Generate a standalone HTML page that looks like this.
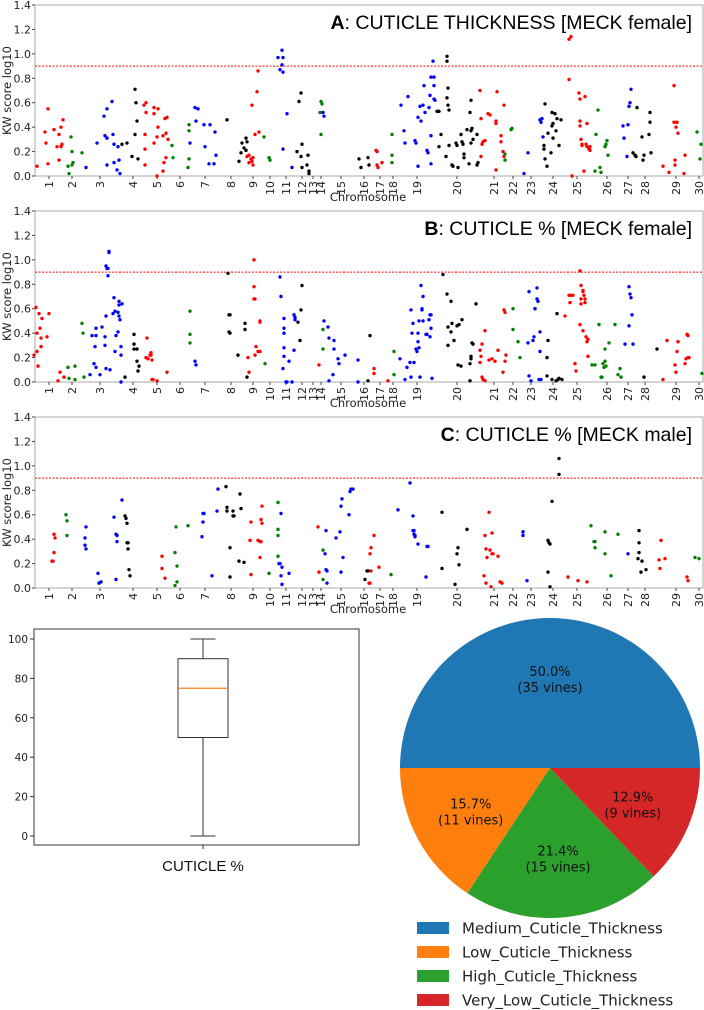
<!DOCTYPE html>
<html><head><meta charset="utf-8"><style>
html,body{margin:0;padding:0;background:#fff;}
svg{display:block;font-family:"DejaVu Sans","Liberation Sans",sans-serif;}
</style></head><body>
<svg id="fig" width="704" height="1010" viewBox="0 0 704 1010"></svg>
<script>
// ---------- DATA ----------
const chromTicks = [1,2,3,4,5,6,7,8,9,10,11,12,13,14,15,16,17,18,19,20,21,22,23,24,25,26,27,28,29,30];
const chromCenters = [49,72,100,133,157,180,205,231,253,270,286,302,313,321,341,364,380,393,417,457,494,513,531,553,577,607,628,645,676,699];
const yTicks = [0.0,0.2,0.4,0.6,0.8,1.0,1.2,1.4];
const threshold = 0.9;
const titles = [["A","CUTICLE THICKNESS [MECK female]"],["B","CUTICLE % [MECK female]"],["C","CUTICLE % [MECK male]"]];
// [chromosome, genome position, KW score]
const scoresA = [
[1,37,0.08],[1,48,0.55],[1,45,0.36],[1,46,0.27],[1,48,0.10],[1,54,0.38],[1,57,0.24],[1,59,0.13],[1,59,0.34],[1,61,0.24],[1,61,0.40],[1,62,0.26],[1,63,0.46],
[2,68,0.08],[2,71,0.32],[2,69,0.02],[2,72,0.20],[2,72,0.09],[2,73,0.11],[2,82,0.19],
[3,86,0.07],[3,97,0.27],[3,104,0.49],[3,105,0.33],[3,107,0.09],[3,107,0.31],[3,107,0.55],[3,112,0.61],[3,113,0.34],[3,114,0.26],[3,114,0.11],[3,117,0.05],[3,118,0.24],[3,119,0.13],[3,120,0.02],
[4,122,0.26],[4,127,0.27],[4,132,0.16],[4,135,0.71],[4,136,0.60],[4,135,0.34],[4,137,0.45],[4,138,0.14],
[5,144,0.58],[5,146,0.60],[5,146,0.52],[5,145,0.34],[5,145,0.22],[5,145,0.09],[5,154,0.51],[5,154,0.56],[5,158,0.55],[5,157,0.00],[5,154,0.27],[5,157,0.32],[5,158,0.40],[5,163,0.33],[5,163,0.04],[5,164,0.11],[5,165,0.47],[5,166,0.35],[5,167,0.48],[5,166,0.15],[5,168,0.30],
[6,172,0.25],[6,173,0.15],[6,188,0.07],[6,189,0.14],[6,189,0.37],[6,189,0.42],
[7,190,0.27],[7,195,0.56],[7,198,0.55],[7,196,0.45],[7,204,0.42],[7,205,0.24],[7,209,0.10],[7,210,0.42],[7,214,0.10],[7,215,0.36],[7,216,0.17],
[8,227,0.46],[8,239,0.12],[8,241,0.19],[8,242,0.27],[8,244,0.23],[8,246,0.31],[8,247,0.28],[8,246,0.21],
[9,247,0.16],[9,249,0.17],[9,249,0.11],[9,251,0.14],[9,252,0.58],[9,253,0.15],[9,253,0.09],[9,252,0.12],[9,255,0.34],[9,257,0.69],[9,258,0.86],[9,259,0.36],
[10,264,0.32],[10,269,0.15],[10,270,0.13],
[11,278,0.97],[11,280,0.87],[11,282,0.91],[11,282,1.03],[11,283,0.97],[11,283,0.85],[11,283,0.22],[11,287,0.51],[11,292,0.07],
[12,297,0.20],[12,299,0.61],[12,301,0.68],[12,301,0.16],[12,302,0.26],[12,302,0.07],[12,307,0.09],[12,308,0.17],[12,309,0.04],[12,309,0.02],
[14,321,0.61],[14,322,0.59],[14,320,0.52],[14,321,0.34],[15,323,0.52],[15,324,0.49],
[16,359,0.14],[16,361,0.07],[16,368,0.15],[16,369,0.09],
[17,376,0.21],[17,377,0.20],[17,377,0.09],[17,378,0.07],[17,382,0.11],
[18,392,0.17],[18,392,0.34],[18,392,0.11],
[19,404,0.37],[19,405,0.27],[19,401,0.58],[19,408,0.65],[19,415,0.29],[19,416,0.27],[19,418,0.48],[19,418,0.08],[19,420,0.57],[19,421,0.45],[19,423,0.58],[19,424,0.74],[19,425,0.52],[19,427,0.21],[19,428,0.19],[19,429,0.56],[19,430,0.66],[19,431,0.33],[19,431,0.10],[19,431,0.81],[19,434,0.81],[19,433,0.94],[19,434,0.74],[19,434,0.63],[19,435,0.62],
[20,437,0.53],[20,439,0.53],[20,439,0.24],[20,441,0.34],[20,446,0.16],[20,447,0.94],[20,447,0.98],[20,447,0.64],[20,448,0.72],[20,449,0.54],[20,448,0.58],[20,449,0.25],[20,452,0.09],[20,453,0.08],[20,456,0.27],[20,457,0.25],[20,458,0.07],[20,461,0.34],[20,462,0.28],[20,463,0.26],[20,464,0.18],[20,464,0.15],[20,467,0.38],[20,469,0.10],[20,470,0.52],[20,471,0.27],[20,471,0.37],[20,471,0.62],[20,472,0.39],[20,473,0.30],[20,477,0.09],[20,477,0.34],[20,478,0.11],
[21,480,0.70],[21,481,0.47],[21,481,0.16],[21,482,0.26],[21,483,0.28],[21,485,0.29],[21,488,0.51],[21,490,0.50],[21,497,0.69],[21,496,0.45],[21,496,0.43],[21,496,0.05],[21,501,0.33],[21,501,0.28],[21,503,0.20],[21,504,0.58],[21,504,0.16],
[22,505,0.18],[22,505,0.13],[22,512,0.39],[22,511,0.38],
[23,524,0.02],[23,528,0.19],[23,540,0.46],[23,542,0.47],[23,541,0.44],[23,543,0.32],
[24,544,0.25],[24,545,0.59],[24,544,0.22],[24,545,0.14],[24,547,0.08],[24,548,0.35],[24,551,0.19],[24,552,0.52],[24,552,0.41],[24,553,0.43],[24,553,0.31],[24,555,0.51],[24,556,0.37],[24,557,0.47],[24,559,0.25],[24,561,0.46],
[25,569,1.12],[25,571,1.14],[25,569,0.79],[25,572,0.00],[25,579,0.68],[25,580,0.63],[25,580,0.45],[25,580,0.41],[25,581,0.30],[25,582,0.25],[25,582,0.26],[25,584,0.04],[25,585,0.65],[25,586,0.26],[25,587,0.43],[25,587,0.24],[25,589,0.22],[25,590,0.21],[25,590,0.24],
[26,595,0.04],[26,596,0.34],[26,598,0.54],[26,600,0.07],[26,601,0.03],[26,605,0.24],[26,606,0.26],[26,607,0.29],[26,608,0.17],
[27,623,0.41],[27,624,0.31],[27,627,0.16],[27,628,0.42],[27,629,0.57],[27,630,0.60],[27,631,0.71],
[28,633,0.19],[28,635,0.17],[28,636,0.16],[28,637,0.56],[28,642,0.32],[28,643,0.13],[28,644,0.17],[28,649,0.34],[28,650,0.52],[28,650,0.44],[28,651,0.19],
[29,663,0.08],[29,669,0.03],[29,674,0.74],[29,674,0.44],[29,677,0.44],[29,676,0.40],[29,678,0.35],[29,675,0.09],[29,675,0.13],[29,684,0.02],[29,685,0.17],
[30,697,0.36],[30,701,0.26],[30,700,0.14]
];
const scoresB = [
[1,34,0.22],[1,36,0.61],[1,37,0.40],[1,37,0.25],[1,38,0.13],[1,39,0.56],[1,40,0.44],[1,41,0.29],[1,41,0.36],[1,42,0.52],[1,47,0.37],[1,49,0.56],[1,58,0.01],[1,60,0.08],[1,64,0.04],
[2,68,0.12],[2,69,0.03],[2,75,0.13],[2,75,0.02],[2,82,0.48],[2,83,0.40],[2,84,0.04],
[3,90,0.06],[3,92,0.38],[3,94,0.15],[3,95,0.29],[3,96,0.12],[3,96,0.44],[3,96,0.38],[3,100,0.06],[3,102,0.45],[3,105,0.30],[3,105,0.37],[3,106,0.54],[3,106,0.11],[3,106,0.95],[3,107,0.93],[3,108,0.87],[3,108,0.93],[3,109,1.06],[3,109,1.07],[3,110,0.10],[3,113,0.56],[3,114,0.69],[3,115,0.25],[3,115,0.58],[3,116,0.38],[3,118,0.41],[3,118,0.57],[3,119,0.66],[3,119,0.63],[3,119,0.54],[3,120,0.51],[3,121,0.22],[3,121,0.29],[3,122,0.64],[3,121,0.00],
[4,125,0.04],[4,134,0.39],[4,134,0.31],[4,134,0.27],[4,137,0.17],[4,137,0.27],[4,138,0.09],[4,139,0.13],
[5,146,0.20],[5,147,0.36],[5,148,0.19],[5,150,0.22],[5,151,0.24],[5,151,0.22],[5,152,0.18],[5,152,0.02],[5,153,0.02],[5,157,0.01],[5,167,0.08],
[6,190,0.32],[6,190,0.39],[6,190,0.58],
[7,195,0.17],[7,196,0.14],
[8,228,0.89],[8,229,0.55],[8,230,0.55],[8,229,0.41],[8,230,0.40],[8,238,0.22],[8,245,0.48],[8,245,0.43],[8,247,0.04],
[9,248,0.20],[9,249,0.08],[9,254,1.00],[9,254,0.78],[9,254,0.68],[9,255,0.68],[9,255,0.22],[9,256,0.29],[9,258,0.25],[9,260,0.25],[9,260,0.50],[9,260,0.49],
[10,265,0.15],
[11,280,0.86],[11,281,0.70],[11,284,0.52],[11,284,0.44],[11,284,0.40],[11,284,0.28],[11,284,0.21],[11,283,0.11],[11,286,0.00],[11,287,0.00],[11,289,0.17],[11,292,0.00],[11,294,0.26],[11,294,0.55],[11,295,0.53],[11,295,0.51],
[12,298,0.49],[12,300,0.34],[12,301,0.59],[12,302,0.79],
[13,319,0.14],[14,323,0.27],[14,323,0.43],
[15,324,0.50],[15,328,0.45],[15,329,0.36],[15,329,0.01],[15,333,0.06],[15,334,0.27],[15,334,0.34],[15,338,0.19],[15,339,0.15],[15,345,0.22],[15,358,0.18],[15,358,0.00],
[16,368,0.01],[16,370,0.38],
[17,374,0.11],[17,374,0.07],[17,388,0.01],
[18,394,0.25],[18,394,0.06],
[19,400,0.19],[19,405,0.02],[19,407,0.12],[19,410,0.16],[19,411,0.04],[19,412,0.40],[19,411,0.59],[19,414,0.16],[19,413,0.48],[19,416,0.27],[19,418,0.40],[19,418,0.33],[19,417,0.25],[19,419,0.28],[19,419,0.50],[19,420,0.04],[19,421,0.79],[19,422,0.59],[19,423,0.70],[19,422,0.60],[19,423,0.50],[19,426,0.39],[19,427,0.39],[19,429,0.51],[19,430,0.55],[19,430,0.37],[19,431,0.55],[19,431,0.44],[19,432,0.03],
[20,443,0.88],[20,447,0.72],[20,448,0.45],[20,448,0.30],[20,451,0.66],[20,451,0.41],[20,452,0.48],[20,454,0.34],[20,457,0.46],[20,459,0.47],[20,458,0.14],[20,461,0.13],[20,462,0.51],[20,470,0.01],[20,470,0.15],[20,471,0.21],[20,472,0.32],[20,473,0.31],[20,471,0.19],[20,476,0.64],
[21,480,0.26],[21,481,0.21],[21,480,0.16],[21,482,0.31],[21,482,0.04],[21,483,0.02],[21,485,0.01],[21,485,0.42],[21,489,0.18],[21,492,0.19],[21,495,0.17],[21,498,0.26],[21,503,0.08],[21,504,0.59],[21,505,0.57],[21,505,0.17],[21,506,0.22],
[22,513,0.60],[22,513,0.43],[22,518,0.33],[22,520,0.20],
[23,528,0.32],[23,529,0.74],[23,529,0.05],[23,531,0.01],[23,533,0.34],[23,534,0.37],[23,535,0.60],[23,535,0.60],[23,537,0.77],[23,537,0.68],[23,538,0.66],[23,539,0.02],[23,540,0.25],[23,540,0.41],[23,541,0.02],
[24,547,0.05],[24,547,0.20],[24,548,0.34],[24,552,0.02],[24,556,0.01],[24,557,0.56],[24,558,0.02],[24,559,0.03],[24,562,0.02],
[25,565,0.54],[25,569,0.71],[25,570,0.65],[25,571,0.71],[25,573,0.71],[25,575,0.15],[25,576,0.09],[25,580,0.91],[25,580,0.47],[25,581,0.79],[25,581,0.64],[25,581,0.68],[25,583,0.42],[25,583,0.75],[25,583,0.74],[25,584,0.71],[25,585,0.68],[25,585,0.65],[25,586,0.37],[25,587,0.33],[25,588,0.21],[25,588,0.35],
[26,592,0.14],[26,595,0.14],[26,599,0.47],[26,601,0.04],[26,602,0.04],[26,603,0.15],[26,604,0.12],[26,605,0.17],[26,605,0.27],[26,606,0.13],[26,609,0.32],[26,615,0.47],[26,618,0.06],[26,620,0.11],[26,621,0.04],
[27,625,0.31],[27,629,0.46],[27,629,0.78],[27,630,0.72],[27,631,0.69],[27,632,0.55],[27,633,0.31],
[28,644,0.04],[28,657,0.27],
[29,663,0.02],[29,667,0.34],[29,675,0.14],[29,676,0.08],[29,677,0.25],[29,678,0.33],[29,685,0.15],[29,686,0.19],[29,687,0.39],[29,688,0.20],[29,688,0.38],[29,689,0.20],
[30,702,0.07]
];
const scoresC = [
[1,52,0.22],[1,53,0.22],[1,54,0.44],[1,55,0.41],[1,54,0.29],
[2,66,0.60],[2,67,0.55],[2,67,0.43],
[3,85,0.41],[3,85,0.35],[3,86,0.32],[3,86,0.50],[3,98,0.12],[3,99,0.04],[3,101,0.05],[3,114,0.58],[3,116,0.07],[3,116,0.44],[3,117,0.38],[3,117,0.43],[3,122,0.72],
[4,125,0.59],[4,126,0.57],[4,127,0.53],[4,127,0.37],[4,128,0.37],[4,128,0.32],[4,129,0.15],[4,130,0.10],
[5,162,0.26],[5,162,0.16],[5,165,0.08],
[6,175,0.02],[6,176,0.50],[6,175,0.29],[6,177,0.05],[6,177,0.18],[6,188,0.51],
[7,202,0.42],[7,203,0.61],[7,204,0.61],[7,203,0.54],[7,212,0.10],[7,217,0.63],[7,218,0.81],
[8,226,0.83],[8,227,0.63],[8,227,0.66],[8,230,0.33],[8,230,0.09],[8,233,0.63],[8,234,0.59],[8,233,0.59],[8,239,0.22],[8,240,0.77],[8,241,0.65],[8,244,0.21],
[9,251,0.54],[9,251,0.11],[9,250,0.39],[9,258,0.39],[9,260,0.38],[9,261,0.38],[9,260,0.25],[9,261,0.56],[9,262,0.67],[9,262,0.53],
[10,269,0.12],[10,278,0.43],[10,278,0.48],[10,278,0.70],[10,278,0.26],
[11,279,0.20],[11,280,0.20],[11,281,0.61],[11,281,0.10],[11,282,0.17],[11,282,0.03],[11,289,0.12],
[13,318,0.50],[13,319,0.13],[14,323,0.07],[14,323,0.31],
[15,325,0.28],[15,326,0.47],[15,326,0.15],[15,327,0.14],[15,327,0.04],[15,336,0.41],[15,340,0.46],[15,341,0.13],[15,341,0.67],[15,342,0.73],[15,343,0.25],[15,349,0.60],[15,350,0.79],[15,351,0.81],[15,353,0.81],
[16,365,0.07],[16,367,0.14],[16,368,0.14],
[17,369,0.04],[17,370,0.04],[17,370,0.28],[17,371,0.33],[17,371,0.14],[17,374,0.43],[17,379,0.17],
[18,391,0.11],
[19,398,0.64],[19,410,0.86],[19,413,0.59],[19,413,0.47],[19,414,0.47],[19,414,0.44],[19,415,0.43],[19,415,0.42],[19,418,0.36],[19,426,0.09],[19,427,0.34],[19,428,0.34],
[20,442,0.62],[20,442,0.16],[20,455,0.03],[20,458,0.33],[20,457,0.28],[20,459,0.19],[20,467,0.48],
[21,484,0.10],[21,485,0.43],[21,486,0.32],[21,486,0.04],[21,487,0.25],[21,489,0.62],[21,490,0.31],[21,491,0.01],[21,492,0.45],[21,492,0.28],[21,493,0.28],[21,498,0.26],[21,500,0.05],[21,502,0.04],
[23,523,0.46],[23,523,0.43],[23,527,0.06],
[24,548,0.39],[24,549,0.37],[24,550,0.36],[24,548,0.13],[24,550,0.01],[24,552,0.71],[24,559,1.06],[24,559,0.93],
[25,568,0.09],[25,578,0.06],[25,587,0.05],
[26,591,0.51],[26,594,0.38],[26,595,0.33],[26,595,0.38],[26,605,0.46],[26,605,0.28],[26,611,0.10],[26,618,0.44],
[27,628,0.28],
[28,638,0.24],[28,639,0.37],[28,639,0.47],[28,639,0.29],[28,641,0.13],[28,642,0.22],[28,646,0.15],
[29,659,0.23],[29,660,0.16],[29,661,0.39],[29,665,0.24],[29,687,0.09],[29,688,0.06],
[30,695,0.25],[30,699,0.24]
];
const boxStats = [0, 50, 75, 90, 100]; // min, q1, median, q3, max
const boxTicks = [0,20,40,60,80,100];
const pieLabels = ["Medium_Cuticle_Thickness","Low_Cuticle_Thickness","High_Cuticle_Thickness","Very_Low_Cuticle_Thickness"];
const pieCounts = [35, 11, 15, 9];
const pieColors = ["#1f77b4","#ff7f0e","#2ca02c","#d62728"];

// ---------- DRAW ----------
const NS = "http://www.w3.org/2000/svg";
const svg = document.getElementById("fig");
function mk(tag, attrs, parent, text) {
  const e = document.createElementNS(NS, tag);
  for (const k in attrs) e.setAttribute(k, attrs[k]);
  if (text !== undefined) e.textContent = text;
  (parent || svg).appendChild(e);
  return e;
}
const chrColors = ["#000000","#ff0000","#008000","#0000ff"];
const X0 = 35, X1 = 703, G0 = 35, G1 = 703;
function xScale(g) { return X0 + (g - G0) * (X1 - X0) / (G1 - G0); }
const panelTops = [5, 211, 417];
const panelH = 171;
const seriesList = [scoresA, scoresB, scoresC];
const panelNames = ["a","b","c"];

seriesList.forEach((data, pi) => {
  const top = panelTops[pi], bot = top + panelH;
  const yScale = v => bot - v / 1.4 * panelH;
  const g = mk("g", {});
  
  
  const fr = mk("rect", {x: X0, y: top, width: X1 - X0, height: panelH, fill: "none", stroke: "#aaa", "stroke-width": 1}, g);
  
  
  yTicks.forEach(t => {
    const y = yScale(t);
    mk("line", {x1: X0 - 3, x2: X0, y1: y, y2: y, stroke: "#444"}, g);
    const tl = mk("text", {x: X0 - 4, y: y + 4, "text-anchor": "end", "font-size": 11, fill: "#222"}, g, t.toFixed(1));
    
    
  });
  const yl = mk("text", {x: 0, y: 0, "text-anchor": "middle", "font-size": 11.5, fill: "#222",
    transform: "translate(11," + (top + panelH / 2) + ") rotate(-90)"}, g, "KW score log10");
  
  
  chromTicks.forEach((c, i) => {
    const x = chromCenters[i];
    mk("line", {x1: x, x2: x, y1: bot, y2: bot + 3, stroke: "#444"}, g);
    const tl = mk("text", {x: 0, y: 0, "text-anchor": "end", "font-size": 11, fill: "#222",
      transform: "translate(" + (x + 4) + "," + (bot + 5) + ") rotate(-90)"}, g, String(c));
    
    
  });
  const xl = mk("text", {x: 368, y: bot + 25, "text-anchor": "middle", "font-size": 11.5, fill: "#222"}, g, "Chromosome");
  
  
  const th = mk("line", {x1: X0, x2: X1, y1: yScale(threshold), y2: yScale(threshold), stroke: "#ff0000", "stroke-width": 1, "stroke-dasharray": "2,1.5"}, g);
  
  
  data.forEach(d => {
    const c = mk("circle", {cx: xScale(d[1]), cy: yScale(d[2]), r: 1.7, fill: chrColors[d[0] % 4]}, g);
    
    
  });
  const tt = mk("text", {x: 692, y: top + 24, "text-anchor": "end", "font-size": 19.5, fill: "#000",
    "font-family": "Liberation Sans, sans-serif"}, g);
  
  
  mk("tspan", {"font-weight": "bold"}, tt, titles[pi][0]);
  mk("tspan", {}, tt, ": " + titles[pi][1]);
});

// Box plot
(function () {
  const L = 34, R = 359, T = 629, B = 845;
  const yB = v => 836 - v * (836 - 639) / 100;
  const g = mk("g", {});
  
  
  mk("rect", {x: L, y: T, width: R - L, height: B - T, fill: "none", stroke: "#333", "stroke-width": 1}, g);
  boxTicks.forEach(t => {
    const y = yB(t);
    mk("line", {x1: L - 4, x2: L, y1: y, y2: y, stroke: "#333"}, g);
    const tl = mk("text", {x: L - 6, y: y + 4, "text-anchor": "end", "font-size": 10.5, fill: "#222"}, g, String(t));
    
    
  });
  const cx = 203, bw = 25, cw = 12.5;
  mk("line", {x1: cx, x2: cx, y1: B, y2: B + 4, stroke: "#333"}, g);
  mk("line", {x1: cx, x2: cx, y1: yB(boxStats[0]), y2: yB(boxStats[1]), stroke: "#333"}, g);
  mk("line", {x1: cx, x2: cx, y1: yB(boxStats[3]), y2: yB(boxStats[4]), stroke: "#333"}, g);
  mk("line", {x1: cx - cw, x2: cx + cw, y1: yB(boxStats[0]), y2: yB(boxStats[0]), stroke: "#333"}, g);
  mk("line", {x1: cx - cw, x2: cx + cw, y1: yB(boxStats[4]), y2: yB(boxStats[4]), stroke: "#333"}, g);
  const bx = mk("rect", {x: cx - bw, y: yB(boxStats[3]), width: 2 * bw, height: yB(boxStats[1]) - yB(boxStats[3]), fill: "none", stroke: "#333"}, g);
  
  
  const md = mk("line", {x1: cx - bw, x2: cx + bw, y1: yB(boxStats[2]), y2: yB(boxStats[2]), stroke: "#ff7f0e", "stroke-width": 1.2}, g);
  
  
  const lb = mk("text", {x: cx, y: 871, "text-anchor": "middle", "font-size": 15, fill: "#111", "font-family": "Liberation Sans, sans-serif"}, g, "CUTICLE %");
  
  
})();

// Pie chart
(function () {
  const cx = 550, cy = 768, r = 150;
  const total = pieCounts.reduce((a, b) => a + b, 0);
  const g = mk("g", {});
  
  
  let a0 = 0;
  pieCounts.forEach((v, i) => {
    const a1 = a0 + v / total * 2 * Math.PI;
    const p0 = [cx + r * Math.cos(a0), cy - r * Math.sin(a0)];
    const p1 = [cx + r * Math.cos(a1), cy - r * Math.sin(a1)];
    const large = (a1 - a0) > Math.PI ? 1 : 0;
    const s = mk("path", {d: "M" + cx + "," + cy + " L" + p0[0] + "," + p0[1] + " A" + r + "," + r + " 0 " + large + " 0 " + p1[0] + "," + p1[1] + " Z", fill: pieColors[i]}, g);
    
    
    const am = (a0 + a1) / 2;
    const lx = cx + 0.6 * r * Math.cos(am), ly = cy - 0.6 * r * Math.sin(am);
    const t1 = mk("text", {x: lx, y: ly - 2, "text-anchor": "middle", "font-size": 13, fill: "#111"}, g, (v / total * 100).toFixed(1) + "%");
    
    
    const t2 = mk("text", {x: lx, y: ly + 14, "text-anchor": "middle", "font-size": 13, fill: "#111"}, g, "(" + v + " vines)");
    
    
    a0 = a1;
  });
  pieLabels.forEach((lab, i) => {
    const y = 928 + i * 24;
    const le = mk("g", {}, g);
    
    
    mk("rect", {x: 417, y: y - 6, width: 32, height: 12, fill: pieColors[i]}, le);
    mk("text", {x: 462, y: y + 5.5, "font-size": 15, fill: "#222"}, le, lab);
  });
})();
</script>
</body></html>
